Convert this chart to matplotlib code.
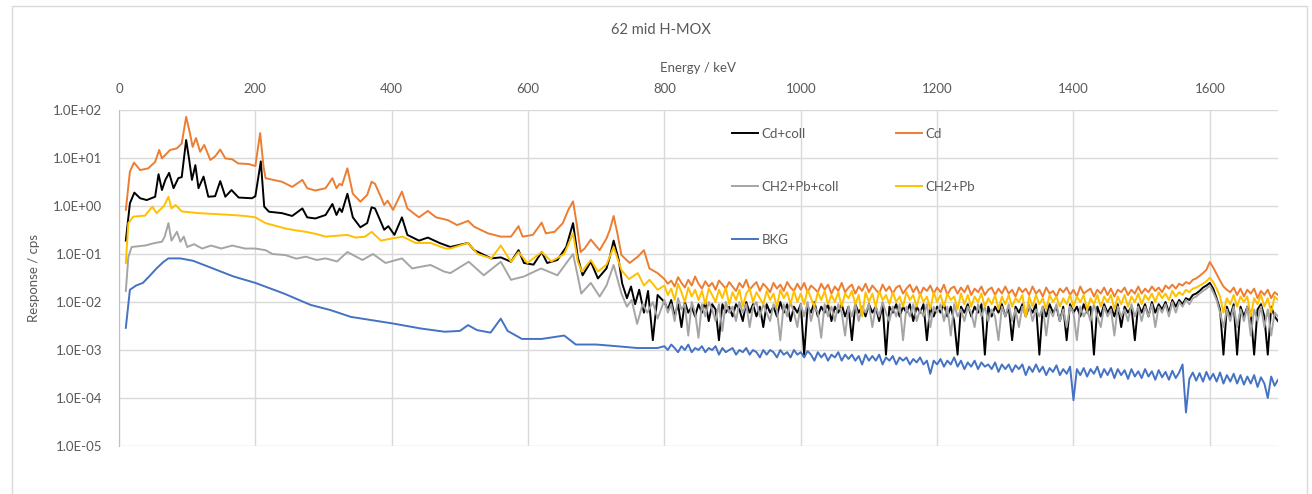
# ============================================================================
# 1 IMPORTS
# ============================================================================

import numpy as np
import matplotlib.pyplot as plt
from matplotlib.ticker import FuncFormatter, NullLocator
from matplotlib.patches import Rectangle

# ============================================================================
# 2 DONNÉES
# ============================================================================

TITRE = "62 mid H-MOX"
XLABEL = "Energy / keV"
YLABEL = "Response / cps"
XTICKS = [0, 200, 400, 600, 800, 1000, 1200, 1400, 1600]
YTICKS = [1e-5, 1e-4, 1e-3, 1e-2, 1e-1, 1e0, 1e1, 1e2]

# partie haute du spectre (bruitée) : un point tous les 5 keV, de 800 à 1700
HI_E = list(range(800, 1701, 5))

# --- Cd+coll (noir)
cdcoll_e = [10, 16, 22.5, 31, 40.7, 53, 58, 63, 68, 73.5, 80, 87, 92, 98.5, 103, 107, 112,
            116.6, 124, 131, 141, 148.5, 156, 165, 175.5, 195, 200, 208, 213, 220, 239, 254,
            269, 276, 288, 303, 313, 319, 323.5, 327, 335, 343, 354, 364, 370.5, 375.5, 384,
            389, 395, 404, 415, 423, 440, 453, 470, 486, 512, 521, 546, 560, 575, 586, 594,
            608, 620, 628, 643, 656, 666, 673, 680, 692, 702.5, 715, 720, 725.5, 733, 738,
            745, 751, 757, 763, 770, 776, 783, 790]
cdcoll_v = [0.19, 1.14, 1.9, 1.45, 1.33, 1.56, 4.6, 2.15, 3.5, 4.9, 2.35, 3.8, 4.0, 23.7, 9.1,
            3.5, 7.1, 2.35, 4.1, 1.56, 1.6, 3.3, 1.56, 2.15, 1.5, 1.45, 1.6, 8.5, 0.97, 0.76,
            0.71, 0.62, 0.89, 0.58, 0.55, 0.65, 1.1, 0.65, 0.89, 0.75, 1.8, 0.58, 0.36, 0.44,
            0.94, 0.89, 0.47, 0.32, 0.38, 0.25, 0.58, 0.25, 0.19, 0.22, 0.17, 0.14, 0.17, 0.12,
            0.081, 0.085, 0.069, 0.12, 0.065, 0.06, 0.11, 0.065, 0.075, 0.14, 0.44, 0.085,
            0.036, 0.069, 0.031, 0.05, 0.088, 0.19, 0.075, 0.0245, 0.012, 0.021, 0.009, 0.018,
            0.006, 0.017, 0.0016, 0.014]
cdcoll_hi = [
    0.010, 0.007, 0.011, 0.005, 0.009, 0.003, 0.010, 0.006, 0.008, 0.005,
    0.009, 0.006, 0.010, 0.004, 0.009, 0.007, 0.0016, 0.009, 0.006, 0.008,
    0.005, 0.009, 0.007, 0.004, 0.010, 0.006, 0.009, 0.005, 0.008, 0.003,
    0.009, 0.006, 0.008, 0.005, 0.010, 0.006, 0.009, 0.004, 0.008, 0.006,
    0.009, 0.0008, 0.008, 0.006, 0.010, 0.005, 0.008, 0.006, 0.009, 0.004,
    0.008, 0.006, 0.009, 0.005, 0.008, 0.0016, 0.009, 0.006, 0.008, 0.005,
    0.009, 0.006, 0.008, 0.004, 0.009, 0.0008, 0.008, 0.006, 0.009, 0.005,
    0.008, 0.006, 0.009, 0.004, 0.008, 0.006, 0.009, 0.0016, 0.008, 0.005,
    0.008, 0.006, 0.009, 0.005, 0.008, 0.004, 0.0008, 0.008, 0.006, 0.009,
    0.005, 0.008, 0.006, 0.009, 0.0008, 0.008, 0.005, 0.008, 0.006, 0.009,
    0.005, 0.008, 0.0016, 0.008, 0.006, 0.009, 0.005, 0.008, 0.006, 0.009,
    0.0008, 0.008, 0.005, 0.009, 0.006, 0.008, 0.004, 0.008, 0.0016, 0.009,
    0.006, 0.008, 0.005, 0.009, 0.006, 0.008, 0.0008, 0.008, 0.005, 0.009,
    0.006, 0.008, 0.005, 0.009, 0.003, 0.008, 0.006, 0.008, 0.0016, 0.009,
    0.006, 0.009, 0.005, 0.010, 0.006, 0.009, 0.007, 0.010, 0.006, 0.011,
    0.008, 0.011, 0.009, 0.012, 0.011, 0.014, 0.015, 0.017, 0.020, 0.022,
    0.025, 0.019, 0.012, 0.007, 0.0008, 0.008, 0.005, 0.009, 0.0008, 0.008,
    0.005, 0.008, 0.006, 0.0008, 0.007, 0.009, 0.005, 0.0008, 0.008, 0.005,
    0.004]

# --- Cd (orange)
cd_e = [10, 16, 22, 31, 43, 53, 59, 63, 75, 85, 92, 98.5, 104, 108, 113, 119, 125, 134, 141,
        148.5, 156, 166, 175, 190, 200, 207, 212, 215, 239, 254, 269, 276, 288, 303, 313, 319,
        323.5, 327, 335, 343, 354, 364, 370.5, 375.5, 384, 389, 394, 402, 415, 423, 440, 453,
        465, 482, 496, 512, 521, 541, 560, 575, 586, 592, 607, 620, 626, 639, 651, 659, 666,
        672, 677, 683, 692, 705, 715, 720, 725.5, 731, 737, 749, 761, 770, 778, 790]
cd_v = [0.83, 5.2, 8.0, 5.6, 6.1, 8.3, 14.7, 9.8, 14.7, 15.9, 20, 72, 33, 17, 26, 13.5, 18.7,
        9.1, 10.8, 15, 9.8, 9.4, 7.7, 7.5, 6.8, 33, 6.6, 3.8, 3.2, 2.5, 3.5, 2.35, 2.1, 2.35,
        3.8, 2.35, 2.9, 2.7, 6.1, 1.8, 1.23, 1.7, 3.2, 2.9, 1.56, 1.05, 1.29, 0.83, 2.0, 0.89,
        0.58, 0.79, 0.58, 0.51, 0.40, 0.49, 0.37, 0.27, 0.23, 0.23, 0.38, 0.23, 0.25, 0.45,
        0.27, 0.29, 0.44, 0.83, 1.25, 0.37, 0.11, 0.13, 0.20, 0.12, 0.21, 0.32, 0.62, 0.27,
        0.095, 0.065, 0.088, 0.12, 0.05, 0.04]
cd_hi = [
    0.030, 0.024, 0.028, 0.021, 0.033, 0.025, 0.020, 0.029, 0.022, 0.034,
    0.024, 0.019, 0.027, 0.021, 0.025, 0.018, 0.028, 0.023, 0.019, 0.026,
    0.021, 0.017, 0.025, 0.020, 0.029, 0.018, 0.022, 0.026, 0.017, 0.024,
    0.020, 0.016, 0.025, 0.019, 0.023, 0.017, 0.026, 0.020, 0.017, 0.024,
    0.018, 0.025, 0.016, 0.022, 0.019, 0.016, 0.024, 0.018, 0.023, 0.015,
    0.021, 0.017, 0.025, 0.016, 0.020, 0.023, 0.015, 0.021, 0.017, 0.024,
    0.016, 0.022, 0.018, 0.015, 0.023, 0.017, 0.021, 0.015, 0.020, 0.022,
    0.015, 0.019, 0.023, 0.016, 0.021, 0.014, 0.020, 0.017, 0.022, 0.015,
    0.020, 0.016, 0.023, 0.014, 0.019, 0.021, 0.015, 0.020, 0.016, 0.022,
    0.014, 0.019, 0.016, 0.021, 0.014, 0.018, 0.020, 0.014, 0.019, 0.015,
    0.021, 0.015, 0.018, 0.013, 0.020, 0.016, 0.019, 0.014, 0.021, 0.015,
    0.018, 0.013, 0.020, 0.015, 0.017, 0.013, 0.019, 0.016, 0.020, 0.014,
    0.018, 0.013, 0.021, 0.015, 0.017, 0.019, 0.013, 0.018, 0.015, 0.020,
    0.014, 0.019, 0.013, 0.018, 0.016, 0.020, 0.014, 0.018, 0.015, 0.021,
    0.015, 0.019, 0.016, 0.021, 0.017, 0.020, 0.016, 0.022, 0.019, 0.023,
    0.019, 0.024, 0.022, 0.026, 0.024, 0.029, 0.031, 0.035, 0.040, 0.047,
    0.068, 0.052, 0.038, 0.028, 0.021, 0.018, 0.016, 0.020, 0.014, 0.019,
    0.013, 0.018, 0.015, 0.019, 0.012, 0.017, 0.014, 0.018, 0.012, 0.016,
    0.014]

# --- CH2+Pb+coll (gris)
ch2coll_e = [10, 13.7, 18.6, 38, 53, 63, 67, 72.5, 77, 85, 90, 95, 100, 110, 122, 135, 150,
             166, 185, 200, 215, 225, 244, 260, 274, 290, 303, 320, 335, 357, 372.5, 391, 415,
             430, 445, 457, 477, 486, 513, 535, 560, 575, 594, 619, 643, 666, 673, 678, 692,
             705, 715, 725.5, 737, 745, 752, 760, 768, 775, 783, 790]
ch2coll_v = [0.017, 0.087, 0.14, 0.15, 0.17, 0.18, 0.23, 0.44, 0.19, 0.29, 0.18, 0.23, 0.14,
             0.16, 0.13, 0.15, 0.13, 0.15, 0.13, 0.13, 0.12, 0.10, 0.095, 0.08, 0.088, 0.075,
             0.081, 0.07, 0.11, 0.075, 0.10, 0.065, 0.081, 0.05, 0.055, 0.059, 0.043, 0.04,
             0.069, 0.036, 0.069, 0.029, 0.034, 0.05, 0.036, 0.10, 0.034, 0.015, 0.025, 0.013,
             0.022, 0.059, 0.015, 0.008, 0.011, 0.0035, 0.009, 0.006, 0.010, 0.0045]
ch2coll_hi = [
    0.011, 0.006, 0.009, 0.004, 0.012, 0.007, 0.009, 0.002, 0.010, 0.006,
    0.0018, 0.009, 0.005, 0.010, 0.007, 0.004, 0.009, 0.0025, 0.010, 0.006,
    0.008, 0.004, 0.010, 0.006, 0.009, 0.003, 0.008, 0.010, 0.005, 0.009,
    0.006, 0.004, 0.009, 0.007, 0.0016, 0.009, 0.005, 0.010, 0.006, 0.003,
    0.009, 0.005, 0.010, 0.004, 0.008, 0.006, 0.0018, 0.009, 0.005, 0.008,
    0.004, 0.009, 0.006, 0.002, 0.008, 0.005, 0.009, 0.004, 0.008, 0.006,
    0.009, 0.003, 0.008, 0.005, 0.010, 0.006, 0.004, 0.008, 0.005, 0.009,
    0.0016, 0.008, 0.005, 0.009, 0.004, 0.007, 0.005, 0.009, 0.003, 0.008,
    0.006, 0.009, 0.004, 0.008, 0.002, 0.009, 0.005, 0.007, 0.004, 0.008,
    0.006, 0.003, 0.009, 0.005, 0.008, 0.004, 0.007, 0.005, 0.0016, 0.008,
    0.005, 0.009, 0.004, 0.007, 0.003, 0.008, 0.005, 0.009, 0.004, 0.007,
    0.005, 0.008, 0.002, 0.007, 0.005, 0.009, 0.004, 0.007, 0.003, 0.008,
    0.006, 0.0016, 0.008, 0.005, 0.007, 0.004, 0.009, 0.005, 0.003, 0.008,
    0.005, 0.007, 0.002, 0.008, 0.005, 0.007, 0.004, 0.009, 0.005, 0.008,
    0.004, 0.008, 0.005, 0.009, 0.003, 0.008, 0.006, 0.009, 0.005, 0.010,
    0.006, 0.010, 0.008, 0.011, 0.009, 0.012, 0.013, 0.015, 0.017, 0.019,
    0.022, 0.016, 0.011, 0.006, 0.003, 0.007, 0.004, 0.008, 0.003, 0.007,
    0.004, 0.008, 0.002, 0.007, 0.004, 0.008, 0.003, 0.007, 0.002, 0.006,
    0.005]

# --- CH2+Pb (jaune)
ch2_e = [10, 13.7, 21, 38, 49, 55, 66, 72.5, 77, 83, 92, 117, 140, 166, 185, 200, 215, 244,
         260, 274, 290, 303, 320, 335, 347, 361, 370.5, 384, 400, 416, 435, 457, 479, 486,
         512, 526, 546, 560, 575, 586, 599, 620, 634, 653, 666, 673, 679, 692, 702.5, 715,
         725.5, 737, 748, 761, 770, 778, 790]
ch2_v = [0.065, 0.44, 0.60, 0.63, 0.97, 0.71, 1.0, 1.56, 0.89, 1.05, 0.77, 0.71, 0.68, 0.65,
         0.62, 0.58, 0.44, 0.34, 0.31, 0.29, 0.26, 0.23, 0.24, 0.25, 0.22, 0.23, 0.29, 0.19,
         0.21, 0.23, 0.17, 0.17, 0.13, 0.13, 0.17, 0.10, 0.081, 0.15, 0.069, 0.11, 0.065,
         0.11, 0.07, 0.1, 0.27, 0.069, 0.043, 0.075, 0.043, 0.06, 0.14, 0.046, 0.03, 0.04,
         0.022, 0.029, 0.018]
ch2_hi = [
    0.022, 0.014, 0.019, 0.011, 0.024, 0.016, 0.010, 0.020, 0.013, 0.018,
    0.011, 0.017, 0.009, 0.019, 0.014, 0.010, 0.018, 0.012, 0.020, 0.009,
    0.016, 0.011, 0.018, 0.008, 0.015, 0.019, 0.010, 0.016, 0.012, 0.009,
    0.017, 0.011, 0.015, 0.008, 0.018, 0.012, 0.016, 0.009, 0.017, 0.010,
    0.015, 0.009, 0.018, 0.012, 0.008, 0.016, 0.011, 0.017, 0.009, 0.014,
    0.010, 0.016, 0.008, 0.015, 0.012, 0.017, 0.009, 0.014, 0.005, 0.016,
    0.010, 0.015, 0.008, 0.017, 0.011, 0.014, 0.009, 0.016, 0.010, 0.013,
    0.008, 0.016, 0.011, 0.014, 0.008, 0.015, 0.010, 0.013, 0.007, 0.016,
    0.010, 0.014, 0.008, 0.015, 0.011, 0.013, 0.007, 0.015, 0.009, 0.014,
    0.008, 0.013, 0.010, 0.015, 0.008, 0.012, 0.009, 0.014, 0.007, 0.013,
    0.009, 0.014, 0.008, 0.012, 0.010, 0.014, 0.005, 0.013, 0.008, 0.014,
    0.009, 0.012, 0.007, 0.014, 0.010, 0.013, 0.008, 0.012, 0.009, 0.014,
    0.008, 0.013, 0.010, 0.014, 0.007, 0.012, 0.009, 0.014, 0.008, 0.013,
    0.010, 0.014, 0.007, 0.013, 0.009, 0.014, 0.008, 0.013, 0.010, 0.015,
    0.009, 0.014, 0.011, 0.015, 0.010, 0.016, 0.012, 0.015, 0.011, 0.017,
    0.013, 0.016, 0.014, 0.018, 0.016, 0.019, 0.020, 0.022, 0.024, 0.027,
    0.032, 0.026, 0.019, 0.013, 0.006, 0.012, 0.009, 0.014, 0.008, 0.013,
    0.010, 0.013, 0.005, 0.012, 0.009, 0.014, 0.008, 0.012, 0.006, 0.013,
    0.011]

# --- BKG (bleu)
bkg_e = [10, 16, 25, 35, 45, 55, 65, 72.5, 90, 109, 144, 168, 200, 242, 281, 310, 340, 370,
         400, 443, 478, 500, 512, 525, 545, 560, 570, 591, 620, 653, 670, 700, 730, 760, 790]
bkg_v = [0.0029, 0.018, 0.022, 0.025, 0.035, 0.05, 0.068, 0.081, 0.081, 0.072, 0.046, 0.034,
         0.025, 0.015, 0.0087, 0.0068, 0.0049, 0.0042, 0.0036, 0.0028, 0.0024, 0.0025, 0.0033,
         0.0026, 0.0023, 0.0045, 0.0025, 0.0017, 0.0017, 0.0020, 0.0013, 0.0013, 0.0012,
         0.0011, 0.0011]
bkg_hi = [
    0.0012, 0.0010, 0.0013, 0.0011, 0.0009, 0.0012, 0.0010, 0.0013, 0.0009, 0.0011,
    0.0010, 0.0012, 0.0009, 0.0011, 0.0010, 0.0012, 0.0008, 0.0011, 0.0009, 0.0010,
    0.0011, 0.0008, 0.0010, 0.0009, 0.0011, 0.0008, 0.0010, 0.0009, 0.0007, 0.0010,
    0.0008, 0.0010, 0.0009, 0.0007, 0.0010, 0.0008, 0.0009, 0.0007, 0.0010, 0.0008,
    0.0009, 0.0007, 0.00095, 0.0008, 0.0006, 0.0009, 0.0007, 0.00085, 0.0006, 0.0008,
    0.0007, 0.0009, 0.0006, 0.0008, 0.00065, 0.0008, 0.0006, 0.00075, 0.0005, 0.0008,
    0.0006, 0.00075, 0.0006, 0.0008, 0.0005, 0.0007, 0.0006, 0.00075, 0.0005, 0.0007,
    0.0006, 0.0007, 0.0005, 0.00065, 0.00055, 0.0007, 0.0005, 0.0006, 0.00032, 0.0006,
    0.0005, 0.00065, 0.00045, 0.0006, 0.0005, 0.0007, 0.00045, 0.0006, 0.0004, 0.00055,
    0.00045, 0.0006, 0.0004, 0.00055, 0.00045, 0.0005, 0.0004, 0.00055, 0.00035, 0.0005,
    0.0004, 0.0005, 0.00035, 0.00048, 0.0004, 0.0005, 0.0003, 0.00045, 0.00035, 0.0005,
    0.00035, 0.00045, 0.0003, 0.00042, 0.00035, 0.00048, 0.0003, 0.0004, 0.00032, 0.00045,
    0.00009, 0.0004, 0.0003, 0.00042, 0.00028, 0.0004, 0.00032, 0.00045, 0.00027, 0.0004,
    0.0003, 0.00042, 0.00026, 0.0004, 0.0003, 0.00038, 0.00025, 0.0004, 0.00028, 0.00036,
    0.00026, 0.0004, 0.00028, 0.00036, 0.00024, 0.00038, 0.00027, 0.00035, 0.00024, 0.00037,
    0.00026, 0.00034, 0.0005, 0.00005, 0.00025, 0.00034, 0.00023, 0.00033, 0.00022, 0.00035,
    0.00024, 0.00032, 0.00022, 0.00034, 0.0002, 0.0003, 0.00022, 0.00032, 0.0002, 0.0003,
    0.00019, 0.00028, 0.0002, 0.0003, 0.00017, 0.00027, 0.0002, 0.0001, 0.00028, 0.00018,
    0.00024]

# nom, couleur, données (ordre de tracé d'Excel)
SERIES = [
    ("Cd+coll", "#000000", cdcoll_e, cdcoll_v, cdcoll_hi),
    ("Cd", "#ED7D31", cd_e, cd_v, cd_hi),
    ("CH2+Pb+coll", "#A5A5A5", ch2coll_e, ch2coll_v, ch2coll_hi),
    ("CH2+Pb", "#FFC000", ch2_e, ch2_v, ch2_hi),
    ("BKG", "#4472C4", bkg_e, bkg_v, bkg_hi),
]

# ============================================================================
# 3 FIGURE
# ============================================================================

GRIS_TXT = "#595959"
plt.rcParams['font.family'] = ['Lato', 'DejaVu Sans']

W, H = 1312, 494
fig = plt.figure(figsize=(W / 100, H / 100), dpi=100)

# cadre du graphique façon Excel
fig.patches.append(Rectangle((12 / W, -0.05), (1307 - 12) / W, 1.05 - 6 / H,
                             transform=fig.transFigure, fill=False,
                             edgecolor="#d9d9d9", linewidth=1.0))

ax = fig.add_axes([119 / W, (H - 446) / H, (1278 - 119) / W, (446 - 110) / H])

lignes = {}
for nom, couleur, e_bas, v_bas, v_haut in SERIES:
    x = np.array(e_bas + HI_E)
    y = np.array(v_bas + v_haut)
    lignes[nom], = ax.plot(x, y, color=couleur, linewidth=1.4, label=nom)

ax.set_yscale('log')
ax.set_ylim(1e-5, 1e2)
ax.set_xlim(0, 1700)
ax.set_yticks(YTICKS)
ax.yaxis.set_minor_locator(NullLocator())
ax.yaxis.set_major_formatter(FuncFormatter(lambda v, _: f"{v:.1E}"))
ax.set_xticks(XTICKS)

ax.xaxis.tick_top()
ax.xaxis.set_label_position('top')
ax.tick_params(axis='both', length=0, labelsize=9.5, labelcolor=GRIS_TXT)
ax.tick_params(axis='x', pad=11)
ax.tick_params(axis='y', pad=12)

ax.set_xlabel(XLABEL, fontsize=9.5, color=GRIS_TXT, labelpad=8)
ax.set_ylabel(YLABEL, fontsize=9.5, color=GRIS_TXT)
ax.yaxis.set_label_coords(-0.068, 0.5)

ax.grid(True, color="#d9d9d9", linewidth=1.0)
ax.set_axisbelow(True)
for cote in ['top', 'right', 'bottom']:
    ax.spines[cote].set_visible(False)
ax.spines['left'].set_color("#bfbfbf")

fig.text(661 / W, (H - 30) / H, TITRE, ha='center', va='center',
         fontsize=10.5, color=GRIS_TXT)

# légende en deux colonnes
ordre = ["Cd+coll", "CH2+Pb+coll", "BKG", "Cd", "CH2+Pb"]
leg = ax.legend([lignes[n] for n in ordre], ordre, loc='upper left',
                bbox_to_anchor=(732 / W, (H - 128) / H), bbox_transform=fig.transFigure,
                ncol=2, frameon=False, fontsize=9.5, borderpad=0, borderaxespad=0,
                handlelength=2.0, handletextpad=0.25, labelspacing=3.1, columnspacing=4.3)
for t in leg.get_texts():
    t.set_color(GRIS_TXT)

fig.savefig("out.png", dpi=100)
